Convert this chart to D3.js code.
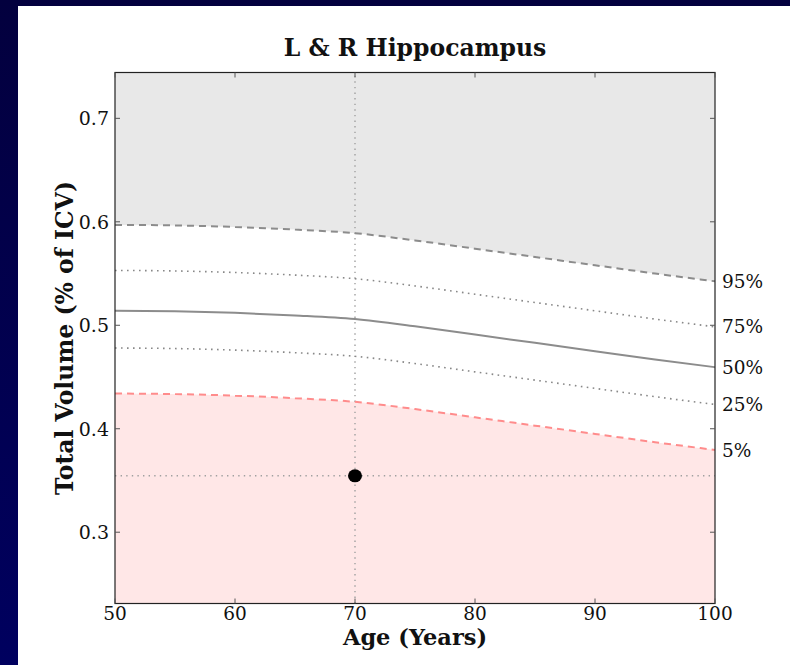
<!DOCTYPE html>
<html>
<head>
<meta charset="utf-8">
<script src="https://cdn.jsdelivr.net/npm/d3@7"></script>
<style>
  body { margin: 0; padding: 0; overflow: hidden; }
  text { font-family: "DejaVu Serif", serif; }
</style>
</head>
<body>
<div id="chart"></div>
<script>
// ages along x
var ages = [50, 55, 60, 65, 70, 75, 80, 85, 90, 95, 100];

// percentile curves (% of ICV)
var p95 = [0.597, 0.5965, 0.595, 0.5925, 0.589, 0.582, 0.574, 0.566, 0.558, 0.550, 0.5425];
var p75 = [0.553, 0.5525, 0.551, 0.5485, 0.545, 0.538, 0.530, 0.522, 0.514, 0.506, 0.4985];
var p50 = [0.514, 0.5135, 0.512, 0.5095, 0.506, 0.499, 0.491, 0.483, 0.475, 0.467, 0.4595];
var p25 = [0.478, 0.4775, 0.476, 0.4735, 0.470, 0.463, 0.455, 0.447, 0.439, 0.431, 0.4235];
var p5  = [0.434, 0.4335, 0.432, 0.4295, 0.426, 0.419, 0.411, 0.403, 0.395, 0.387, 0.3795];

var percentLabels = ["95%", "75%", "50%", "25%", "5%"];

// the subject
var subjectAge = 70;
var subjectVolume = 0.3545;

var xTicks = [50, 60, 70, 80, 90, 100];
var yTicks = [0.3, 0.4, 0.5, 0.6, 0.7];

var width = 790, height = 665;
var margin = {top: 72.5, right: 75, bottom: 61.5, left: 115};

var svg = d3.select("#chart")
  .append("svg")
  .attr("width", width)
  .attr("height", height);

// dark slide background with white panel
var defs = svg.append("defs");
var grad = defs.append("linearGradient")
  .attr("id", "bg").attr("x1", 0).attr("y1", 0).attr("x2", 0).attr("y2", 1);
grad.append("stop").attr("offset", "0%").attr("stop-color", "#03003e");
grad.append("stop").attr("offset", "100%").attr("stop-color", "#00005f");

svg.append("rect").attr("width", width).attr("height", height).attr("fill", "url(#bg)");
svg.append("rect").attr("x", 18).attr("y", 6)
  .attr("width", width - 18).attr("height", height - 6).attr("fill", "#ffffff");

var x = d3.scaleLinear().domain([50, 100]).range([margin.left, width - margin.right]);
var y = d3.scaleLinear().domain([0.2311, 0.7443]).range([height - margin.bottom, margin.top]);

var rows = ages.map(function(a, i) {
  return {age: a, p95: p95[i], p75: p75[i], p50: p50[i], p25: p25[i], p5: p5[i]};
});

var curve = d3.curveMonotoneX;

var clip = defs.append("clipPath").attr("id", "plotclip");
clip.append("rect")
  .attr("x", x(50)).attr("y", y.range()[1])
  .attr("width", x(100) - x(50)).attr("height", y.range()[0] - y.range()[1]);

var plot = svg.append("g").attr("clip-path", "url(#plotclip)");

// shaded zones
plot.append("path")
  .datum(rows)
  .attr("fill", "#e8e8e8")
  .attr("d", d3.area().curve(curve)
    .x(function(d) { return x(d.age); })
    .y0(function(d) { return y(d.p95); })
    .y1(y.range()[1]));

plot.append("path")
  .datum(rows)
  .attr("fill", "#ffe7e7")
  .attr("d", d3.area().curve(curve)
    .x(function(d) { return x(d.age); })
    .y0(y.range()[0])
    .y1(function(d) { return y(d.p5); }));

// reference lines through the subject
plot.append("line")
  .attr("x1", x(subjectAge)).attr("x2", x(subjectAge))
  .attr("y1", y.range()[0]).attr("y2", y.range()[1])
  .attr("stroke", "#a0a0a0").attr("stroke-width", 1.4).attr("stroke-dasharray", "1.4,4.2");
plot.append("line")
  .attr("x1", x(50)).attr("x2", x(100))
  .attr("y1", y(subjectVolume)).attr("y2", y(subjectVolume))
  .attr("stroke", "#a0a0a0").attr("stroke-width", 1.4).attr("stroke-dasharray", "1.4,4.2");

// percentile lines
var lineStyles = [
  {key: "p95", color: "#8c8c8c", w: 2, dash: "7,5"},
  {key: "p75", color: "#888888", w: 1.6, dash: "1.6,4.4"},
  {key: "p50", color: "#8c8c8c", w: 2, dash: null},
  {key: "p25", color: "#888888", w: 1.6, dash: "1.6,4.4"},
  {key: "p5",  color: "#ff8c8c", w: 2, dash: "7,5"}
];

lineStyles.forEach(function(s) {
  plot.append("path")
    .datum(rows)
    .attr("fill", "none")
    .attr("stroke", s.color)
    .attr("stroke-width", s.w)
    .attr("stroke-dasharray", s.dash)
    .attr("d", d3.line().curve(curve)
      .x(function(d) { return x(d.age); })
      .y(function(d) { return y(d[s.key]); }));
});

// subject point
plot.append("ellipse")
  .attr("cx", x(subjectAge)).attr("cy", y(subjectVolume))
  .attr("rx", 7).attr("ry", 6.5)
  .attr("fill", "#000000");

// frame
svg.append("rect")
  .attr("x", x(50)).attr("y", y.range()[1])
  .attr("width", x(100) - x(50)).attr("height", y.range()[0] - y.range()[1])
  .attr("fill", "none").attr("stroke", "#222222").attr("stroke-width", 1.2);

// inward ticks on all four sides
var tickLen = 5;
var tickColor = "#555555";
xTicks.forEach(function(t) {
  svg.append("line").attr("x1", x(t)).attr("x2", x(t))
    .attr("y1", y.range()[0]).attr("y2", y.range()[0] - tickLen)
    .attr("stroke", tickColor);
  svg.append("line").attr("x1", x(t)).attr("x2", x(t))
    .attr("y1", y.range()[1]).attr("y2", y.range()[1] + tickLen)
    .attr("stroke", tickColor);
});
yTicks.forEach(function(t) {
  svg.append("line").attr("x1", x(50)).attr("x2", x(50) + tickLen)
    .attr("y1", y(t)).attr("y2", y(t))
    .attr("stroke", tickColor);
  svg.append("line").attr("x1", x(100)).attr("x2", x(100) - tickLen)
    .attr("y1", y(t)).attr("y2", y(t))
    .attr("stroke", tickColor);
});

// tick labels
svg.selectAll(".xtick")
  .data(xTicks)
  .enter()
  .append("text")
  .attr("x", function(d) { return x(d); })
  .attr("y", y.range()[0] + 16)
  .attr("text-anchor", "middle")
  .attr("font-size", "18.5px")
  .attr("fill", "#111")
  .text(function(d) { return d; });

svg.selectAll(".ytick")
  .data(yTicks)
  .enter()
  .append("text")
  .attr("x", x(50) - 6)
  .attr("y", function(d) { return y(d); })
  .attr("dy", "0.36em")
  .attr("text-anchor", "end")
  .attr("font-size", "19px")
  .attr("fill", "#111")
  .text(function(d) { return d3.format(".1f")(d); });

// percentile labels at the right end of each curve
var ends = [p95, p75, p50, p25, p5];
svg.selectAll(".plabel")
  .data(percentLabels)
  .enter()
  .append("text")
  .attr("x", x(100) + 7)
  .attr("y", function(d, i) { return y(ends[i][ends[i].length - 1]); })
  .attr("dy", "0.36em")
  .attr("font-size", "18.5px")
  .attr("fill", "#111")
  .text(function(d) { return d; });

// titles
svg.append("text")
  .attr("x", (x(50) + x(100)) / 2)
  .attr("y", 56)
  .attr("text-anchor", "middle")
  .attr("font-size", "23.5px")
  .attr("font-weight", "bold")
  .attr("fill", "#111")
  .text("L & R Hippocampus");

svg.append("text")
  .attr("x", (x(50) + x(100)) / 2)
  .attr("y", 645)
  .attr("text-anchor", "middle")
  .attr("font-size", "22.5px")
  .attr("font-weight", "bold")
  .attr("fill", "#111")
  .text("Age (Years)");

svg.append("text")
  .attr("transform", "translate(73," + ((y.range()[0] + y.range()[1]) / 2) + ") rotate(-90)")
  .attr("text-anchor", "middle")
  .attr("font-size", "23.5px")
  .attr("font-weight", "bold")
  .attr("fill", "#111")
  .text("Total Volume (% of ICV)");
</script>
</body>
</html>
